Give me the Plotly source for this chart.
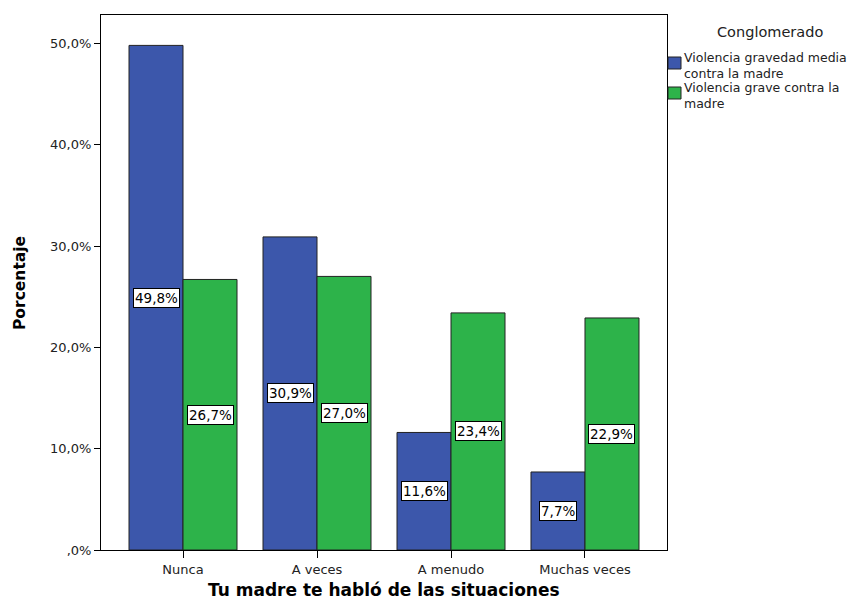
import plotly.graph_objects as go

categories = ["Nunca", "A veces", "A menudo", "Muchas veces"]
series_names = ["Violencia gravedad media<br>contra la madre", "Violencia grave contra la<br>madre"]
media_vals = [49.8, 30.9, 11.6, 7.7]
grave_vals = [26.7, 27.0, 23.4, 22.9]
ytick_vals = [0, 10, 20, 30, 40, 50]
ytick_text = [",0%", "10,0%", "20,0%", "30,0%", "40,0%", "50,0%"]
colors = ["#3C57AB", "#2DB34A"]
x_title = "Tu madre te habló de las situaciones"
y_title = "Porcentaje"
legend_title = "Conglomerado"

W, H = 867, 602
L, R, T, B = 101, 667, 15, 550
FONT = "DejaVu Sans"

fig = go.Figure()
all_vals = [media_vals, grave_vals]
xs = list(range(len(categories)))
for name, vals, col in zip(series_names, all_vals, colors):
    fig.add_trace(go.Bar(x=xs, y=vals, name=name.replace("<br>", " "),
                         marker=dict(color=col, line=dict(color="#222222", width=1)),
                         showlegend=False, hoverinfo="skip"))

bargap = 0.194
half = (1 - bargap) / 2
font_lab = dict(family=FONT, size=13.5, color="black")
for s, vals in enumerate(all_vals):
    off = -half / 2 if s == 0 else half / 2
    for i, v in enumerate(vals):
        fig.add_annotation(x=i + off, y=v / 2, xref="x", yref="y",
                           text=(f"{v:.1f}%").replace(".", ","), showarrow=False,
                           font=font_lab, bgcolor="white", bordercolor="black",
                           borderwidth=1, borderpad=1)

pw = R - L
ph = B - T
def px(xpix):
    return (xpix - L) / pw
def py(ypix):
    return (B - ypix) / ph

# legend (manual)
fig.add_annotation(x=px(770), y=py(32), xref="paper", yref="paper", text=legend_title,
                   showarrow=False, font=dict(family=FONT, size=14.5, color="#222"),
                   xanchor="center", yanchor="middle")
item_tops = [49, 79]
swatch_tops = [57, 87]
for name, col, top, st in zip(series_names, colors, item_tops, swatch_tops):
    fig.add_shape(type="rect", xref="paper", yref="paper", x0=px(668), x1=px(681),
                  y0=py(st + 12), y1=py(st), fillcolor=col, line=dict(color="#222", width=1))
    fig.add_annotation(x=px(683), y=py(top), xref="paper", yref="paper", text=name,
                       showarrow=False, align="left", xanchor="left", yanchor="top",
                       font=dict(family=FONT, size=12.5, color="#222"), borderpad=0)

# axis titles
fig.add_annotation(x=px(384), y=py(590), xref="paper", yref="paper", text=f"<b>{x_title}</b>",
                   showarrow=False, font=dict(family=FONT, size=17, color="black"),
                   xanchor="center", yanchor="middle")
fig.add_annotation(x=px(20), y=py(283), xref="paper", yref="paper", text=f"<b>{y_title}</b>",
                   showarrow=False, font=dict(family=FONT, size=15.5, color="black"),
                   textangle=-90, xanchor="center", yanchor="middle")

fig.update_layout(
    width=W, height=H,
    margin=dict(l=L, r=W - R, t=T, b=H - B, autoexpand=False),
    paper_bgcolor="white", plot_bgcolor="white",
    barmode="group", bargap=bargap, bargroupgap=0,
    xaxis=dict(range=[-0.612, 3.612], tickvals=xs, ticktext=categories, automargin=False,
               showgrid=False, zeroline=False, showline=True, linecolor="black", linewidth=1,
               mirror=True, ticks="outside", ticklen=7, tickcolor="black",
               tickfont=dict(family=FONT, size=13, color="#222")),
    yaxis=dict(range=[0, 52.8], tickvals=ytick_vals, ticktext=ytick_text, automargin=False,
               showgrid=False, zeroline=False, showline=True, linecolor="black", linewidth=1,
               mirror=True, ticks="outside", ticklen=6, tickcolor="black",
               tickfont=dict(family=FONT, size=13, color="#222")),
)

fig.write_html("out.html", config={"displayModeBar": False})
with open("out.html", "r", encoding="utf-8") as f:
    html = f.read()
html = html.replace("<head>", "<head><style>html,body{margin:0;padding:0;overflow:hidden}</style>", 1)
with open("out.html", "w", encoding="utf-8") as f:
    f.write(html)
